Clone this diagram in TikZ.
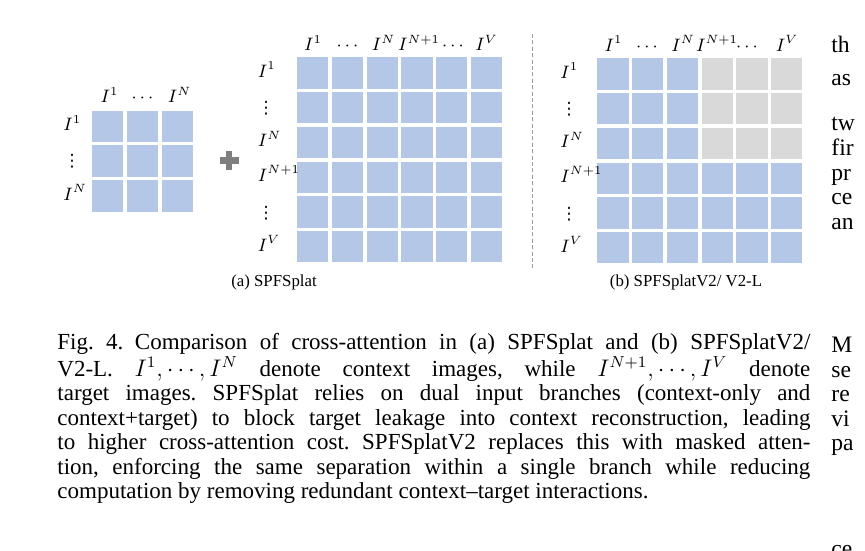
\documentclass[tikz,border=0pt]{standalone}
\usepackage[no-math]{fontspec}
\setmainfont{Liberation Serif}
\newfontfamily\dotsfont{DejaVu Sans}
\usetikzlibrary{calc}

\definecolor{cellblue}{HTML}{B4C7E7}
\definecolor{cellgray}{HTML}{D9D9D9}
\definecolor{plusgray}{HTML}{7F7F7F}
\definecolor{sepgray}{HTML}{9A9A9A}

\newcommand{\vdts}{{\dotsfont ⋮}}

\tikzset{
  cell/.style={fill=cellblue},
  maskcell/.style={fill=cellgray},
  lbl/.style={inner sep=0pt, font=\fontsize{9}{10}\selectfont},
  dotlbl/.style={inner sep=0pt, font=\fontsize{8.5}{10}\selectfont},
  sublbl/.style={inner sep=0pt, font=\fontsize{8.4}{10}\selectfont},
  bodytxt/.style={inner sep=0pt, anchor=base west, font=\fontsize{11.8}{12.5}\selectfont},
  sepline/.style={sepgray, line width=0.5pt, dash pattern=on 2pt off 1.2pt},
}

\begin{document}
\begin{tikzpicture}[x=0.5pt, y=-0.5pt]

%%Paramaters
%% cell size and pitch, in pixels of the page
\def\cellW{31.4}
\def\Pitch{34.75}

%% matrix corners
\def\sX{92}    \def\sY{110.7}
\def\aX{297}   \def\aY{57.3}
\def\bX{597.3} \def\bY{58.3}

%% caption line width
\def\capW{376.5pt}

\useasboundingbox (0,0) rectangle (865,550);
\clip (0,0) rectangle (865,550);

    %% ***context-only matrix***
    \foreach \r in {0,1,2}
        \foreach \c in {0,1,2}
            \fill[cell] ({\sX+\c*\Pitch},{\sY+\r*\Pitch}) rectangle ++(\cellW,\cellW);

    \node[lbl, anchor=base] (sCol1) at (109.5, 103) {$I^1$};
    \node[lbl, anchor=base] (sCol2) at (142.5, 103) {$\cdots$};
    \node[lbl, anchor=base] (sCol3) at (179.5, 103) {$I^N$};

    \node[lbl, anchor=base west] (sRow1) at (63, 131) {$I^1$};
    \node[dotlbl] (sRow2) at (72, 161.2) {\vdts};
    \node[lbl, anchor=base west] (sRow3) at (63, 200.5) {$I^N$};

    %% plus sign
    \fill[plusgray] (219.5, 157.2) rectangle (238.5, 163.7);
    \fill[plusgray] (225.8, 151) rectangle (232.3, 170);

    %% ***(a) SPFSplat : context+target matrix***
    \foreach \r in {0,...,5}
        \foreach \c in {0,...,5}
            \fill[cell] ({\aX+\c*\Pitch},{\aY+\r*\Pitch}) rectangle ++(\cellW,\cellW);

    \node[lbl, anchor=base] (aCol1) at (313, 51) {$I^1$};
    \node[lbl, anchor=base] (aCol2) at (347.5, 51) {$\cdots$};
    \node[lbl, anchor=base] (aCol3) at (383.5, 51) {$I^N$};
    \node[lbl, anchor=base] (aCol4) at (419, 51) {$I^{N+1}$};
    \node[lbl, anchor=base] (aCol5) at (453, 51) {$\cdots$};
    \node[lbl, anchor=base] (aCol6) at (486.5, 51) {$I^V$};

    \node[lbl, anchor=base west] (aRow1) at (257.5, 77.5) {$I^1$};
    \node[dotlbl] (aRow2) at (266, 108.5) {\vdts};
    \node[lbl, anchor=base west] (aRow3) at (257.5, 147) {$I^N$};
    \node[lbl, anchor=base west] (aRow4) at (257.5, 181.5) {$I^{N+1}$};
    \node[dotlbl] (aRow5) at (266, 213) {\vdts};
    \node[lbl, anchor=base west] (aRow6) at (257.5, 251.2) {$I^V$};

    \node[sublbl, anchor=base] (capA) at (274, 286) {(a) SPFSplat};

    %% separator
    \coordinate (sepTop) at (532, 34);
    \coordinate (sepBot) at (532, 270);
    \draw[sepline] (sepTop) -- (sepBot);

    %% ***(b) SPFSplatV2 : masked matrix***
    \foreach \r in {0,...,5}
        \foreach \c in {0,1,2}
            \fill[cell] ({\bX+\c*\Pitch},{\bY+\r*\Pitch}) rectangle ++(\cellW,\cellW);
    \foreach \r in {3,4,5}
        \foreach \c in {3,4,5}
            \fill[cell] ({\bX+\c*\Pitch},{\bY+\r*\Pitch}) rectangle ++(\cellW,\cellW);
    \foreach \r in {0,1,2}
        \foreach \c in {3,4,5}
            \fill[maskcell] ({\bX+\c*\Pitch},{\bY+\r*\Pitch}) rectangle ++(\cellW,\cellW);

    \node[lbl, anchor=base] (bCol1) at (613.5, 51.5) {$I^1$};
    \node[lbl, anchor=base] (bCol2) at (647, 51.5) {$\cdots$};
    \node[lbl, anchor=base] (bCol3) at (683, 51.5) {$I^N$};
    \node[lbl, anchor=base] (bCol4) at (717, 51.5) {$I^{N+1}$};
    \node[lbl, anchor=base] (bCol5) at (747, 51.5) {$\cdots$};
    \node[lbl, anchor=base] (bCol6) at (787, 51.5) {$I^V$};

    \node[lbl, anchor=base west] (bRow1) at (560, 78.5) {$I^1$};
    \node[dotlbl] (bRow2) at (569, 109.5) {\vdts};
    \node[lbl, anchor=base west] (bRow3) at (560, 148) {$I^N$};
    \node[lbl, anchor=base west] (bRow4) at (560, 182.5) {$I^{N+1}$};
    \node[dotlbl] (bRow5) at (569, 214) {\vdts};
    \node[lbl, anchor=base west] (bRow6) at (560, 252.2) {$I^V$};

    \node[sublbl, anchor=base] (capB) at (686, 286) {(b) SPFSplatV2/ V2-L};

    %% figure caption, one justified box per line
    \node[anchor=north west, inner sep=0pt, text width=\capW,
          font=\fontsize{11.5}{12.25}\selectfont] (caption) at (57, 333) {%
        \noindent\frenchspacing\spaceskip0pt\xspaceskip0pt\relax
        \makebox[\capW][s]{Fig.~4.\hspace{0.5em}Comparison of cross-attention in (a) SPFSplat and (b) SPFSplatV2/}\\
        \makebox[\capW][s]{V2-L. $I^1,\cdots,I^N$ denote context images, while $I^{N+1},\cdots,I^V$ denote}\\
        \makebox[\capW][s]{target images. SPFSplat relies on dual input branches (context-only and}\\
        \makebox[\capW][s]{context+target) to block target leakage into context reconstruction, leading}\\
        \makebox[\capW][s]{to higher cross-attention cost. SPFSplatV2 replaces this with masked atten-}\\
        \makebox[\capW][s]{tion, enforcing the same separation within a single branch while reducing}\\
        computation by removing redundant context--target interactions.};

    %% right column, cut by the page edge
    \node[bodytxt] (rc1) at (831, 53) {th};
    \node[bodytxt] (rc2) at (831, 86) {as};
    \node[bodytxt] (rc3) at (831, 131) {tw};
    \node[bodytxt] (rc4) at (831, 156) {fir};
    \node[bodytxt] (rc5) at (831, 181) {pr};
    \node[bodytxt] (rc6) at (831, 205) {ce};
    \node[bodytxt] (rc7) at (831, 230) {an};
    \node[bodytxt] (rc8) at (831, 352) {M};
    \node[bodytxt] (rc9) at (831, 377) {se};
    \node[bodytxt] (rc10) at (831, 401) {re};
    \node[bodytxt] (rc11) at (831, 426) {vi};
    \node[bodytxt] (rc12) at (831, 450) {pa};
    \node[bodytxt] (rc13) at (831, 556) {ce};

\end{tikzpicture}
\end{document}
